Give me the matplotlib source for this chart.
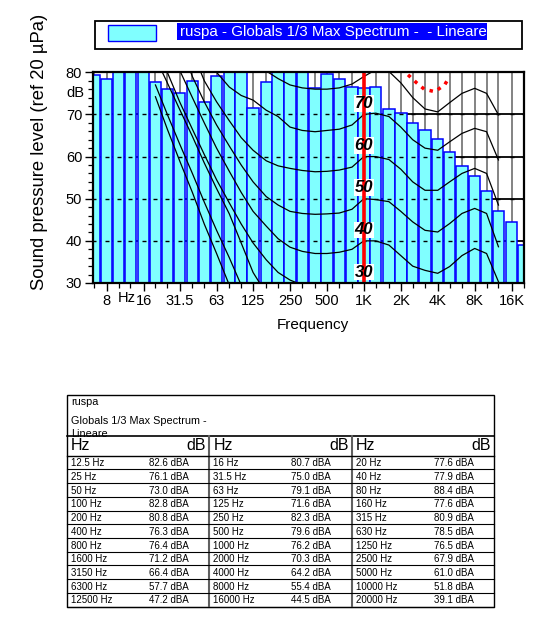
import matplotlib
matplotlib.use('Agg')
import matplotlib.pyplot as plt
from matplotlib.patches import Rectangle
from matplotlib import font_manager
import numpy as np

plt.rcParams['font.family'] = ['Liberation Sans', 'DejaVu Sans']

# 1/3 octave band centres and max levels (dB)
bands = [6.3, 8, 10, 12.5, 16, 20, 25, 31.5, 40, 50, 63, 80, 100, 125, 160, 200,
         250, 315, 400, 500, 630, 800, 1000, 1250, 1600, 2000, 2500, 3150, 4000,
         5000, 6300, 8000, 10000, 12500, 16000, 20000]
levels = [79.3, 78.4, 81.5, 82.6, 80.7, 77.6, 76.1, 75.0, 77.9, 73.0, 79.1, 88.4,
          82.8, 71.6, 77.6, 80.8, 82.3, 80.9, 76.3, 79.6, 78.5, 76.4, 76.2, 76.5,
          71.2, 70.3, 67.9, 66.4, 64.2, 61.0, 57.7, 55.4, 51.8, 47.2, 44.5, 39.1]

octave_ticks = [8, 16, 31.5, 63, 125, 250, 500, 1000, 2000, 4000, 8000, 16000]
octave_labels = ['8', '16', '31.5', '63', '125', '250', '500', '1K', '2K', '4K', '8K', '16K']

# equal loudness contours, 20 Hz .. 12.5 kHz
contour_freqs = [20, 25, 31.5, 40, 50, 63, 80, 100, 125, 160, 200, 250, 315, 400,
                 500, 630, 800, 1000, 1250, 1600, 2000, 2500, 3150, 4000, 5000,
                 6300, 8000, 10000, 12500]
phon_0 = [74.2, 66.5, 59.0, 51.5, 44.0, 37.0, 29.5, 23.5, 19.0, 15.0, 12.0, 9.5, 7.5,
          6.0, 5.0, 4.5, 4.5, 4.5, 3.5, 1.5, -0.5, -2.0, -3.5, -4.0, -2.5, 1.5, 8.5,
          12.0, 11.0]
phon_10 = [77.0, 70.0, 63.0, 56.0, 49.2, 42.5, 36.0, 29.5, 24.5, 20.5, 17.5, 15.5, 14.0,
           13.0, 12.0, 11.5, 11.0, 10.0, 10.0, 9.0, 7.0, 5.0, 3.5, 3.0, 4.5, 8.0, 13.0,
           16.0, 13.0]
phon_20 = [83.5, 77.5, 71.2, 64.8, 58.5, 52.4, 46.4, 39.5, 32.5, 27.5, 24.5, 22.5, 21.0,
           20.0, 19.5, 19.0, 19.0, 20.0, 20.0, 19.0, 17.0, 14.5, 13.0, 12.5, 14.0, 17.0,
           20.0, 20.0, 15.0]
phon_30 = [87.0, 80.0, 73.0, 66.5, 60.5, 54.5, 49.0, 44.0, 39.5, 35.5, 32.5, 30.7, 29.5,
           28.5, 28.0, 28.0, 28.5, 30.0, 30.0, 29.0, 26.5, 24.0, 22.5, 22.0, 23.5, 26.5,
           29.0, 28.0, 22.0]
phon_40 = [95.0, 88.0, 80.5, 74.0, 68.0, 62.0, 56.5, 51.5, 47.0, 43.5, 40.5, 38.5, 37.5,
           37.0, 37.0, 37.3, 38.0, 40.0, 40.0, 39.0, 36.5, 34.0, 33.0, 32.3, 33.9, 36.5,
           38.2, 37.0, 30.3]
phon_50 = [102.0, 95.0, 87.0, 79.0, 73.0, 67.5, 62.5, 58.0, 54.0, 50.5, 48.5, 47.0, 46.5,
           46.3, 46.4, 46.6, 47.5, 50.0, 49.8, 49.3, 47.0, 44.5, 42.5, 42.1, 44.1, 46.5,
           47.7, 46.5, 38.6]
phon_60 = [108.0, 100.0, 93.0, 85.0, 78.0, 73.0, 68.5, 64.5, 61.5, 59.0, 57.8, 57.2, 56.7,
           56.4, 56.5, 56.8, 57.5, 60.0, 60.0, 59.3, 57.0, 54.0, 52.0, 52.0, 54.0, 56.0,
           57.2, 56.0, 48.5]
phon_70 = [114.0, 106.0, 99.0, 92.0, 86.0, 80.0, 76.5, 74.5, 73.4, 71.0, 69.5, 67.0, 66.2,
           65.9, 66.2, 66.5, 67.5, 70.0, 70.3, 69.5, 67.0, 64.0, 62.0, 61.5, 63.5, 65.5,
           66.7, 65.9, 59.2]
phon_80 = [120.0, 113.0, 106.0, 100.0, 95.0, 90.0, 86.0, 83.5, 81.8, 80.3, 78.5, 77.0,
           76.3, 76.0, 76.0, 76.3, 77.2, 79.0, 80.6, 80.2, 77.5, 74.0, 71.3, 70.6, 72.8,
           75.0, 76.2, 75.0, 69.9]
contours = [phon_0, phon_10, phon_20, phon_30, phon_40, phon_50, phon_60, phon_70, phon_80]
contour_tags = [30, 40, 50, 60, 70]

# red dotted limit curve
limit_freqs = [2290, 2690, 3100, 3780, 4550, 5000]
limit_db = [79.4, 77.5, 76.0, 75.4, 77.0, 79.0]

W, H = 539, 630
fig = plt.figure(figsize=(W / 100, H / 100), dpi=100)

names = {f.name for f in font_manager.fontManager.ttflist}
if 'Liberation Sans Narrow' in names:
    table_font, row_size, title_size = 'Liberation Sans Narrow', 7.6, 8.6
else:
    table_font, row_size, title_size = 'Liberation Sans', 7.0, 7.8


def fx(px):
    return px / W


def fy(py):
    return 1 - py / H


# page layer for legend box and table
page = fig.add_axes([0, 0, 1, 1])
page.set_xlim(0, W)
page.set_ylim(H, 0)
page.axis('off')

ax = fig.add_axes([fx(93.3), fy(283), fx(523.5) - fx(93.3), fy(72.3) - fy(283)])
ax.set_xscale('log')
ax.set_xlim(6.23, 19950)
ax.set_ylim(30, 80)

bands_a = np.array(bands)
half = 2 ** (0.93 / 6)
ax.bar(bands_a / half, levels, width=bands_a * half - bands_a / half, align='edge',
       color='#80FFFF', edgecolor='#0000FF', linewidth=1.1, zorder=2)

ax.vlines(bands, 30, 80, color='#6e6e6e', linewidth=1.2, zorder=1)
ax.hlines([40, 50, 60, 70], 6.23, 19950, color='black', linewidth=1.3, zorder=1)
for y in [40, 50, 60, 70]:
    ax.plot(bands, [y] * len(bands), ls='none', marker='_', ms=3.5, mew=1.0,
            color='black', zorder=3)

for c in contours:
    ax.plot(contour_freqs, c, color='black', linewidth=0.9, zorder=4)

for t in contour_tags:
    ax.text(1000, t + 2.6, str(t), ha='center', va='center', fontsize=12,
            fontweight='bold', style='italic', color='white', zorder=4.5,
            bbox=dict(facecolor='white', edgecolor='none', pad=0.6))
ax.axvline(1000, color='#ff0000', linewidth=2.6, zorder=5)
ax.plot(limit_freqs, limit_db, color='#ff0000', linewidth=2.5, ls=(0, (1.0, 1.6)),
        zorder=5)
for t in contour_tags:
    ax.text(1000, t + 2.6, str(t), ha='center', va='center', fontsize=12,
            fontweight='bold', style='italic', zorder=6)

ax.set_yticks([30, 40, 50, 60, 70, 80])
ax.set_yticks(np.arange(30, 81, 2), minor=True)
ax.set_xticks(octave_ticks)
ax.set_xticklabels(octave_labels)
ax.set_xticks(bands, minor=True)
ax.xaxis.set_minor_formatter(plt.NullFormatter())
ax.tick_params(axis='both', which='major', length=6, width=1.0, labelsize=10.5, pad=2)
ax.tick_params(axis='both', which='minor', length=3.5, width=0.9)
for s in ax.spines.values():
    s.set_linewidth(1.6)
    s.set_zorder(7)

ax.text(-0.02, 75.1, 'dB', transform=ax.get_yaxis_transform(), ha='right',
        va='center', fontsize=10.5)
ax.text(11.6, -0.072, 'Hz', transform=ax.get_xaxis_transform(), ha='center',
        va='center', fontsize=10.5)
fig.text(fx(313), fy(325), 'Frequency', ha='center', va='center', fontsize=11)
fig.text(fx(40), fy(152), 'Sound pressure level (ref 20 \u00b5Pa)', rotation=90,
         ha='center', va='center', fontsize=13.3)

# legend box
page.add_patch(Rectangle((95, 21), 427, 28, facecolor='white', edgecolor='black',
                         linewidth=1.3))
page.add_patch(Rectangle((108, 24.5), 48, 16, facecolor='#80FFFF', edgecolor='#0000FF',
                         linewidth=1.0))
page.add_patch(Rectangle((177, 22.7), 310, 17.5, facecolor='#0000FF', edgecolor='none'))
page.text(180, 31.6, 'ruspa - Globals 1/3 Max Spectrum -  - Lineare', color='white',
          ha='left', va='center', fontsize=10.9)

# table of values
tl, tr, tt, tb = 67, 494, 395, 607
page.add_patch(Rectangle((tl, tt), tr - tl, tb - tt, facecolor='none', edgecolor='black',
                         linewidth=1.0))
page.text(71, 405, 'ruspa', fontsize=title_size, family=table_font)
page.text(71, 424.5, 'Globals 1/3 Max Spectrum -', fontsize=title_size, family=table_font)
page.text(71, 437, 'Lineare', fontsize=title_size, family=table_font)
page.plot([tl, tr], [435.5, 435.5], color='black', lw=1.2)

group_w = (tr - tl) / 3
for g in range(3):
    gx = tl + g * group_w
    page.text(gx + 4, 450, 'Hz', fontsize=11.5)
    page.text(gx + group_w - 3, 450, 'dB', fontsize=11.5, ha='right')
    if g > 0:
        page.plot([gx, gx], [435.5, tb], color='#606060', lw=1.5)

row_top = 455.7
row_h = 13.72
table_hz = bands[3:]
table_db = levels[3:]
page.plot([tl, tr], [row_top, row_top], color='black', lw=1.0)
for k, (f, v) in enumerate(zip(table_hz, table_db)):
    r, g = divmod(k, 3)
    gx = tl + g * group_w
    yb = row_top + r * row_h + 10.5
    page.text(gx + 4, yb, f'{f:g} Hz', fontsize=row_size, family=table_font)
    page.text(gx + 82, yb, f'{v:.1f} dBA', fontsize=row_size, family=table_font)
    if g == 0:
        yl = row_top + (r + 1) * row_h
        page.plot([tl, tr], [yl, yl], color='black', lw=0.8)

fig.savefig('out.png', dpi=100)
